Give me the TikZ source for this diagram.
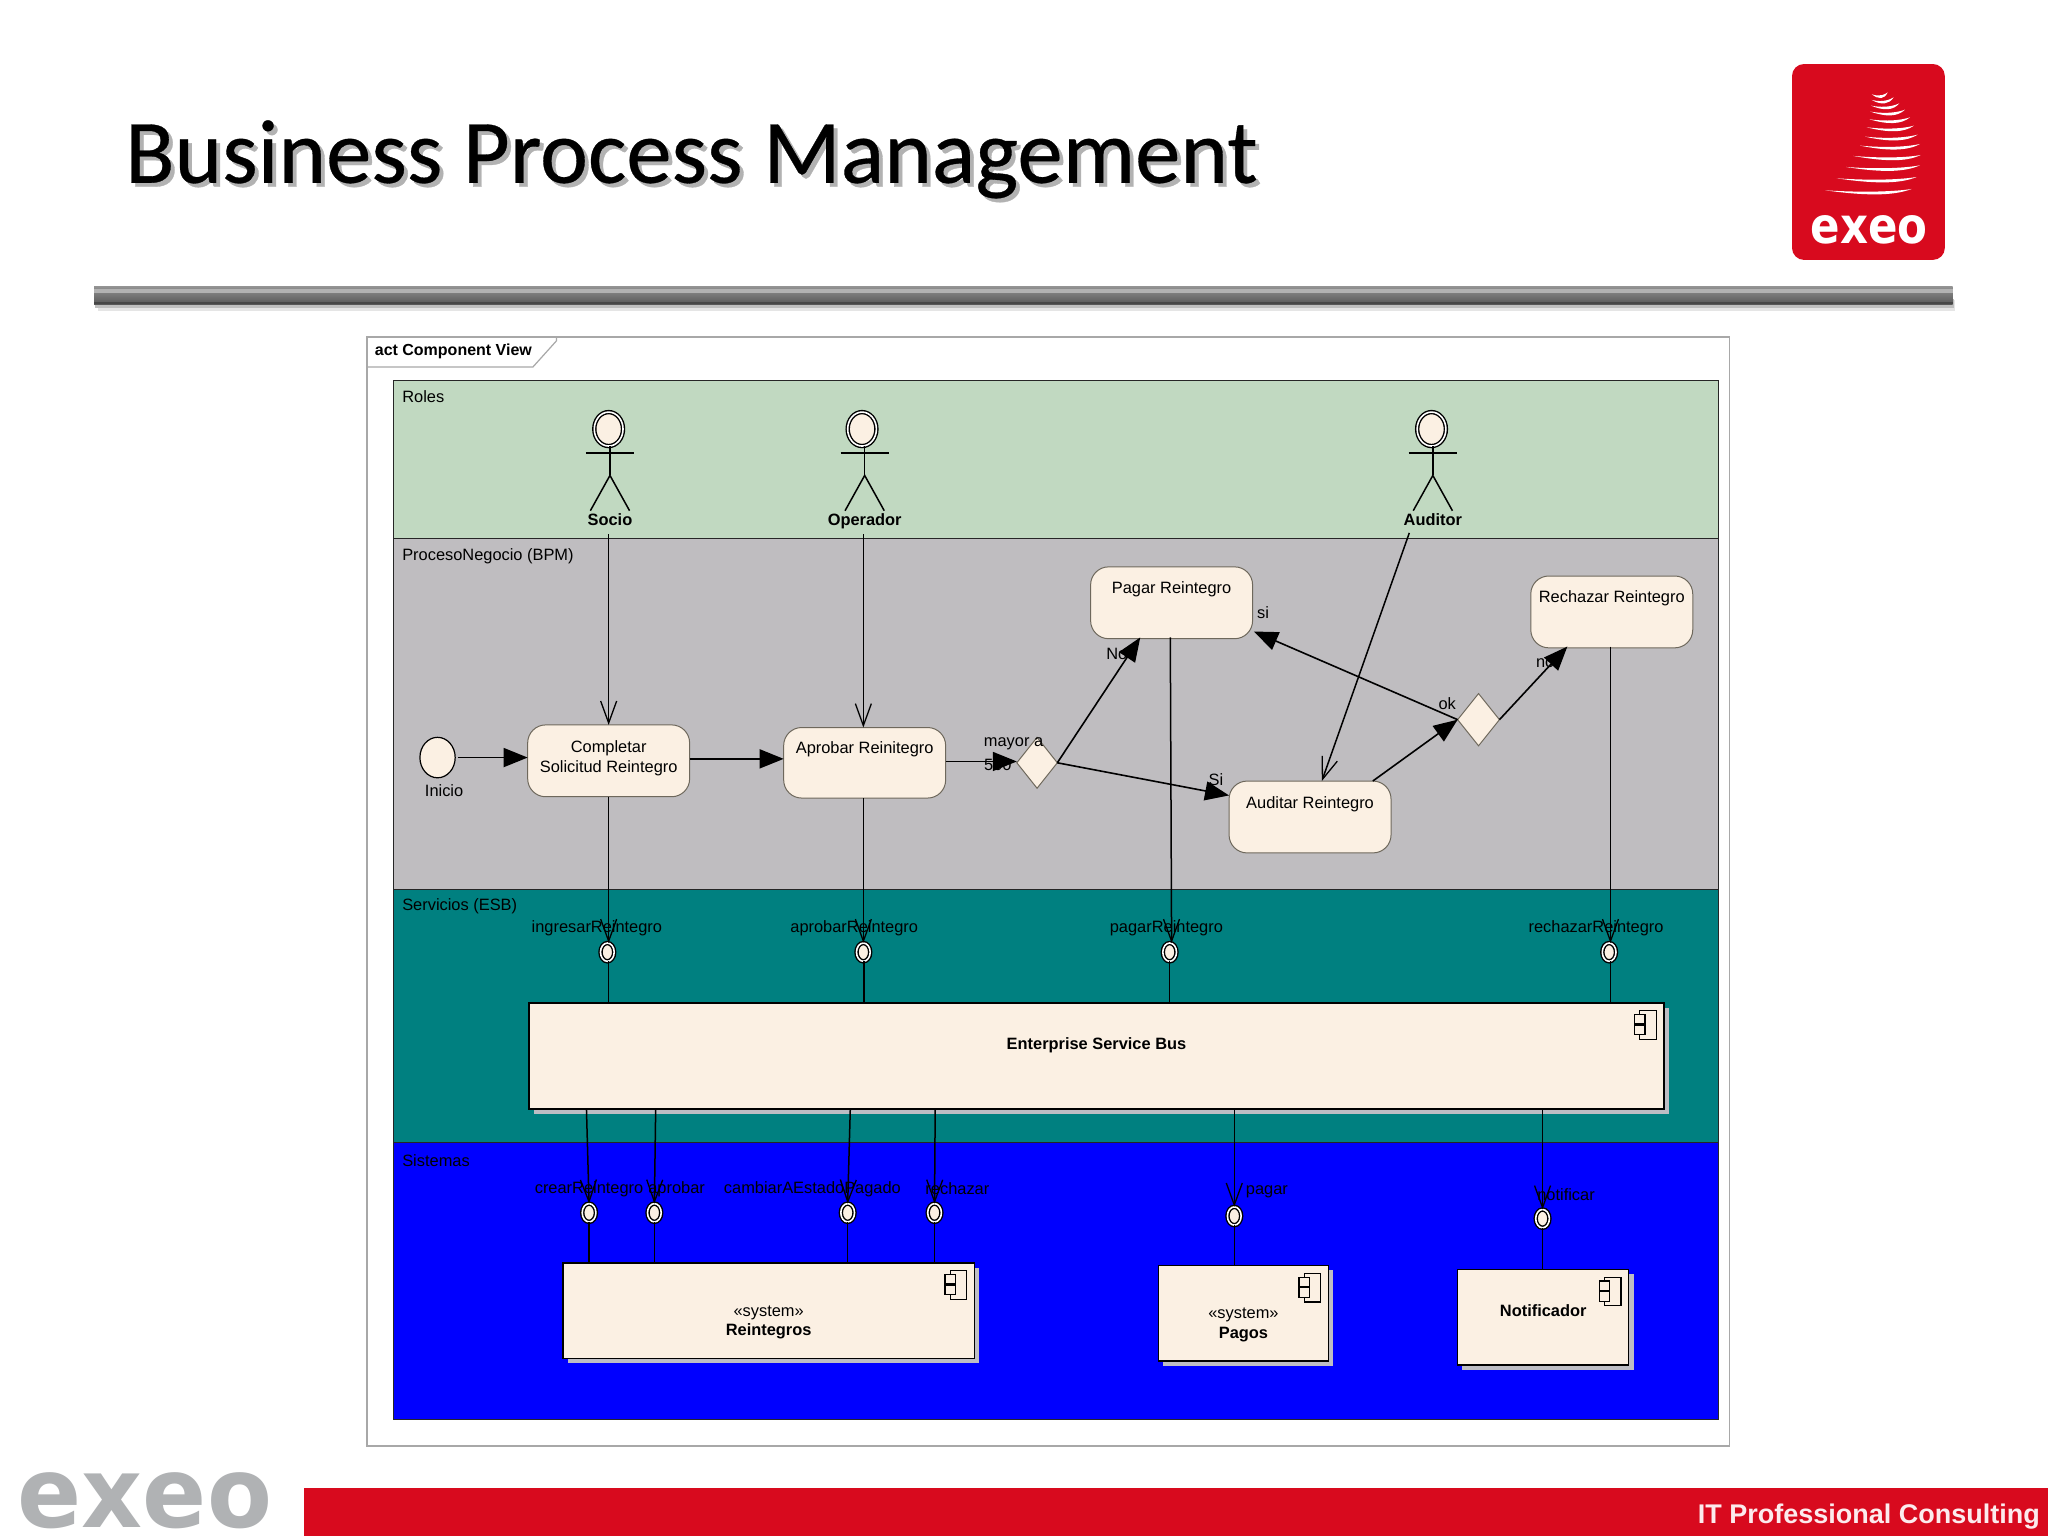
\documentclass[tikz,border=0pt]{standalone}
\usepackage{fontspec}
\setmainfont{Liberation Sans}
\newfontfamily\titlefont[FakeBold=0.35]{Carlito}
\newfontfamily\brandfont[BoldFont={DejaVu Sans Bold}]{DejaVu Sans}
\usetikzlibrary{arrows.meta,calc,shapes.geometric,shadows}
\definecolor{rolesgreen}{HTML}{C1D9C1}
\definecolor{bpmgrey}{HTML}{BFBDC0}
\definecolor{esbteal}{HTML}{008080}
\definecolor{sysblue}{HTML}{0000FF}
\definecolor{cream}{HTML}{FBF0E3}
\definecolor{framegrey}{HTML}{A8A8A8}
\definecolor{boxedge}{HTML}{6E685C}
\definecolor{exeored}{HTML}{D80A1E}
\definecolor{exeogrey}{HTML}{B0B2B4}
\definecolor{shadowgrey}{HTML}{BDBDC4}
\tikzset{
  sized/.style 2 args={minimum width=#1*0.65306pt,minimum height=#2*0.65306pt},
  toptext/.style 2 args={text height=#1*0.65306pt,text depth=#2*0.65306pt},
  base/.style={inner sep=0pt,outer sep=0pt,font=\fontsize{8.2}{9.8}\selectfont},
  lane/.style={base,draw=black!85,line width=.55pt,anchor=north west},
  lanetext/.style={base,anchor=west},
  txt/.style={base},
  actbox/.style={base,draw=boxedge,line width=.5pt,fill=cream,rounded corners=9pt,align=center},
  compbox/.style={base,draw=black,line width=.65pt,fill=cream,align=center,
    general shadow={shadow xshift=2.4pt,shadow yshift=-2.4pt,fill=shadowgrey}},
  decision/.style={base,diamond,draw=boxedge,line width=.5pt,fill=cream,aspect=0.8},
  ball/.style={base,ellipse,draw=black,line width=.7pt,double=white,double distance=.8pt,fill=cream,sized={10.5}{14}},
  head/.style={base,ellipse,draw=black,line width=.7pt,double=white,double distance=.8pt,fill=cream,sized={22}{26}},
  limb/.style={line width=.75pt},
  flow/.style={line width=.8pt,-{Triangle[length=12pt,width=9.5pt]}},
  call/.style={line width=.75pt,-{Straight Barb[length=11pt,width=8pt,line width=.65pt]}},
  wire/.style={line width=.75pt},
}
\newcommand{\compicon}[1]{%
  \draw[line width=.6pt,fill=cream] ($(#1.north east)+(-18.5,5.8)$) rectangle ($(#1.north east)+(-6,27.8)$);
  \draw[line width=.6pt,fill=cream] ($(#1.north east)+(-22.5,8.8)$) rectangle ($(#1.north east)+(-14.5,16)$);
  \draw[line width=.6pt,fill=cream] ($(#1.north east)+(-22.5,17)$) rectangle ($(#1.north east)+(-14.5,24.2)$);
}
\newcommand{\actor}[2]{% node name of head, name of hip coordinate
  \draw[limb] (#1.south -| #2) -- (#2);
  \draw[limb] ($(#2)+(-18.5,-17)$) -- ($(#2)+(18.5,-17)$);
  \draw[limb] ($(#2)+(-15,27)$) -- (#2) -- ($(#2)+(15,27)$);
}
\begin{document}
\begin{tikzpicture}[x=0.65306pt,y=-0.65306pt]
\useasboundingbox (0,0) rectangle (1568,1176);
\fill[white] (0,0) rectangle (1568,1176);

% title
\node[anchor=west,inner sep=0pt,text=black!30,font=\titlefont\fontsize{45.4}{50}\selectfont] (titleshade) at (98.5,125) {Business Process Management};
\node[anchor=west,inner sep=0pt,font=\titlefont\fontsize{45.4}{50}\selectfont] (title) at (95.5,122) {Business Process Management};

% rule under the title
\fill[black!10] (75,230) rectangle (1497,238);
\fill[black!25] (73,229) rectangle (1496,236);
\shade[top color=black!42,bottom color=black!66] (72,219) rectangle (1495,233);
\fill[black!30] (72,221) rectangle (1495,224);
\fill[black!72] (72,231) rectangle (1495,233);

% logo
\fill[exeored,rounded corners=6pt] (1372,49) rectangle (1489,199);
\begin{scope}[shift={(1332.2,30.6)},scale=0.2552]
\foreach \a/\b/\c/\d in {395/163/443/157,395/180/461/172,393/197/478/190,391/215/495/209,388/238/510/232,380/262/522/257,375/290/533/284,360/317/540/312,340/348/542/345,318/381/540/376,290/415/530/411,255/451/515/447}{
  \fill[white] (\a,\b) .. controls ({\a+0.45*(\c-\a)},{\b+16}) and ({\c-0.22*(\c-\a)},{\d+22}) .. (\c,\d)
    .. controls ({\c-0.12*(\c-\a)},{\d+5}) and ({\a+0.55*(\c-\a)},{\b+9}) .. (\a,\b);
}
\end{scope}
\node[inner sep=0pt,text=white,font=\brandfont\bfseries\fontsize{25}{28}\selectfont] (logotext) at (1431,176) {\scalebox{.87}[1]{exeo}};

% footer
\fill[exeored] (233,1139) rectangle (1568,1176);
\node[inner sep=0pt,text=exeogrey,font=\brandfont\bfseries\fontsize{49}{54}\selectfont] (footbrand) at (111,1149) {\scalebox{.965}[1]{exeo}};
\node[anchor=east,inner sep=0pt,text=white!92!exeored,font=\bfseries\fontsize{13.5}{15}\selectfont] (footclaim) at (1562,1161) {IT Professional Consulting};

% diagram frame
\node[base,draw=framegrey,line width=.6pt,fill=white,anchor=north west,sized={1043}{849}] (frame) at (281,258) {};
\draw[framegrey,line width=.6pt] ($(frame.north west)+(145,0)$) -- ($(frame.north west)+(145,3)$) -- ($(frame.north west)+(127,23)$) -- ($(frame.north west)+(0,23)$);
\node[base,anchor=west,font=\bfseries\fontsize{8}{10}\selectfont] (frametitle) at (287,269) {act Component View};

% swimlanes
\node[lane,fill=rolesgreen,sized={1015}{121}] (roles) at (301,291) {};
\node[lane,fill=bpmgrey,sized={1015}{269}] (bpm) at (301,412) {};
\node[lane,fill=esbteal,sized={1015}{194}] (esbl) at (301,681) {};
\node[lane,fill=sysblue,sized={1015}{212}] (sys) at (301,875) {};
\node[lanetext] (rolest) at (308,303.5) {Roles};
\node[lanetext] (bpmt) at (308,425.5) {ProcesoNegocio (BPM)};
\node[lanetext] (esbt) at (308,694) {Servicios (ESB)};
\node[lanetext] (syst) at (308,888.5) {Sistemas};

% actors
\node[head] (hSocio) at (466,328.5) {};
\node[head] (hOper) at (660,328.5) {};
\node[head] (hAud) at (1096,328.5) {};
\coordinate (cSocio) at (467,364);
\coordinate (cOper) at (662,364);
\coordinate (cAud) at (1097,364);
\actor{hSocio}{cSocio}
\actor{hOper}{cOper}
\actor{hAud}{cAud}
\node[txt,text height=6pt,text depth=1.8pt,font=\bfseries\fontsize{8.2}{10}\selectfont] (Socio) at (467,399) {Socio};
\node[txt,text height=6pt,text depth=1.8pt,font=\bfseries\fontsize{8.2}{10}\selectfont] (Oper) at (662,399) {Operador};
\node[txt,text height=6pt,text depth=1.8pt,font=\bfseries\fontsize{8.2}{10}\selectfont] (Aud) at (1097,399) {Auditor};

% activities
\node[base,ellipse,draw=black,line width=.6pt,fill=cream,sized={27}{31}] (inicio) at (335,580) {};
\node[txt] (iniciot) at (340,605.5) {Inicio};
\node[actbox,sized={124}{55}] (completar) at (466,582.5) {Completar\\Solicitud Reintegro\rule[-4pt]{0pt}{0pt}};
\node[actbox,sized={124}{54},toptext={20}{34}] (aprobar) at (662,584) {Aprobar Reinitegro};
\node[actbox,sized={124}{55},toptext={20.5}{34.5}] (pagarA) at (897,461.5) {Pagar Reintegro};
\node[actbox,sized={124}{55},toptext={20.5}{34.5}] (rechazarA) at (1234,468.5) {Rechazar Reintegro};
\node[actbox,sized={124}{55},toptext={21}{34}] (auditar) at (1003,625.5) {Auditar Reintegro};
\node[decision,sized={31}{39}] (d1) at (794,584) {};
\node[decision,sized={32}{40}] (d2) at (1132,551) {};

% flow labels (under the connectors)
\node[txt] (l500a) at (776,569.5) {mayor a};
\node[txt] (l500b) at (764,585.5) {500};
\node[txt] (lNo) at (855,500.5) {No};
\node[txt] (lsi) at (967,469) {si};
\node[txt] (lok) at (1108,538.5) {ok};
\node[txt] (lSi) at (931,597) {Si};
\node[txt] (lno) at (1183,507.5) {no};

% service labels
\node[txt] (lingr) at (457,710.5) {ingresarReintegro};
\node[txt] (lapro) at (654,710.5) {aprobarReintegro};
\node[txt] (lpaga) at (893,710.5) {pagarReintegro};
\node[txt] (lrech) at (1222,710.5) {rechazarReintegro};

% ESB and systems
\node[compbox,sized={869}{81},toptext={35.5}{45.5}] (esb) at (839.5,808.5) {\bfseries Enterprise Service Bus};
\compicon{esb}
\node[compbox,sized={315}{73}] (reint) at (588.5,1003.5) {\rule{0pt}{17pt}«system»\\\bfseries Reintegros};
\compicon{reint}
\node[compbox,sized={130}{73}] (pagos) at (952,1005.5) {\rule{0pt}{17pt}«system»\\\bfseries Pagos};
\compicon{pagos}
\node[compbox,sized={131}{73},toptext={36}{37}] (notif) at (1181.5,1008.5) {\bfseries Notificador};
\compicon{notif}

% interface labels
\node[txt] (lcrea) at (451,910.5) {crearReintegro};
\node[txt] (lapr2) at (518,910.5) {aprobar};
\node[txt] (lcamb) at (622,910.5) {cambiarAEstadoPagado};
\node[txt] (lrec2) at (733,910) {rechazar};
\node[txt] (lpag2) at (970,912.5) {pagar};
\node[txt] (lnot2) at (1199,914.5) {notificar};

% interfaces
\node[ball] (s1) at (465,729) {};
\node[ball] (s2) at (661,729) {};
\node[ball] (s3) at (895.5,729) {};
\node[ball] (s4) at (1232,729) {};
\node[ball] (i1) at (451,928.5) {};
\node[ball] (i2) at (501,928.5) {};
\node[ball] (i3) at (649,928.5) {};
\node[ball] (i4) at (715.5,928.5) {};
\node[ball] (i5) at (945,931) {};
\node[ball] (i6) at (1181,933) {};

% control flow
\draw[flow] (inicio.east) ++(2,0) -- (inicio.east -| completar.west);
\draw[flow] ($(completar.east)+(0,-1.5)$) -- ($(aprobar.west)+(0,-3)$);
\draw[flow] ($(aprobar.east)+(0,-1)$) -- ($(d1.west)+(0,-1)$);
\draw[flow] (d1.east) -- ($(pagarA.south)+(-24,-1)$);
\draw[flow] (d1.east) -- ($(auditar.west)+(0,-16.5)$);
\draw[flow] ($(auditar.north)+(48,0)$) -- (d2.west);
\draw[flow] (d2.west) -- ($(pagarA.east)+(1,22)$);
\draw[flow] (d2.east) -- ($(rechazarA.south)+(-34,-1)$);

% roles to activities
\draw[call] ($(Socio.south)+(-1,4)$) -- (completar.north);
\draw[call] ($(Oper.south)+(-1,4)$) -- ($(aprobar.north)+(-1,0)$);
\draw[call] ($(Aud.south)+(-18,3)$) -- ($(auditar.north)+(9,0)$);

% activities to services
\draw[call] (completar.south) -- ($(s1.north)+(1,0)$);
\draw[call] ($(aprobar.south)+(-1,0)$) -- (s2.north);
\draw[call] ($(pagarA.south)+(-1,-1)$) -- (s3.north -| pagarA.south);
\draw[call] ($(rechazarA.south)+(-1,-1)$) -- ($(s4.north)+(1,0)$);
\draw[wire] ($(s1.south)+(1,0)$) -- ($(s1.south |- esb.north)+(1,0)$);
\draw[wire] ($(s2.south)+(.5,0)$) -- ($(s2.south |- esb.north)+(.5,0)$);
\draw[wire] (s3.south) -- (s3.south |- esb.north);
\draw[wire] ($(s4.south)+(1,0)$) -- ($(s4.south |- esb.north)+(1,0)$);

% ESB to systems
\draw[call] ($(esb.south west)+(44,0)$) -- (i1.north);
\draw[call] ($(esb.south west)+(97,0)$) -- (i2.north);
\draw[call] ($(esb.south west)+(246,0)$) -- (i3.north);
\draw[call] ($(esb.south west)+(311,0)$) -- (i4.north);
\draw[call] ($(esb.south west)+(540,0)$) -- (i5.north);
\draw[call] ($(esb.south west)+(776,0)$) -- (i6.north);
\draw[wire] (i1.south) -- (i1.south |- reint.north);
\draw[wire] (i2.south) -- (i2.south |- reint.north);
\draw[wire] (i3.south) -- (i3.south |- reint.north);
\draw[wire] (i4.south) -- (i4.south |- reint.north);
\draw[wire] (i5.south) -- (i5.south |- pagos.north);
\draw[wire] (i6.south) -- (i6.south |- notif.north);
\end{tikzpicture}
\end{document}
